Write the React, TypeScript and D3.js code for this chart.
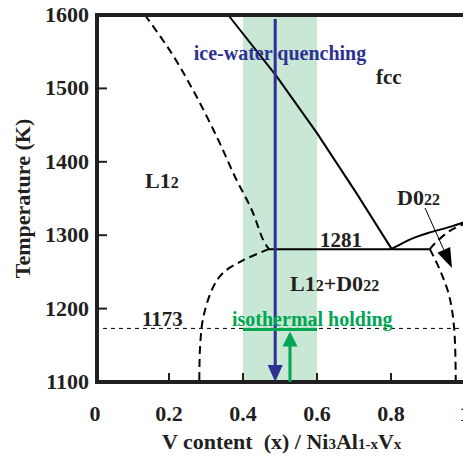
import React, { useEffect, useRef } from 'react';
import * as d3 from 'd3';

type Pt = [number, number];

// axis ticks
const xTicks = [0, 0.2, 0.4, 0.6, 0.8, 1];
const xTickLabels = ['0', '0.2', '0.4', '0.6', '0.8', '1'];
const yTicks = [1100, 1200, 1300, 1400, 1500, 1600];

// phase boundaries (V content, temperature K)
const fccBoundary: Pt[] = [[0.36, 1600], [0.49, 1517], [0.6, 1439], [0.707, 1357], [0.802, 1281]];
const eutectoidLine: Pt[] = [[0.47, 1281], [0.905, 1281]];
const d022Boundary: Pt[] = [[0.8, 1281], [0.82, 1286], [0.838, 1291], [0.865, 1297], [0.9, 1303], [0.964, 1312], [1.0, 1318]];
const d022Metastable: Pt[] = [[0.905, 1281], [0.919, 1289], [0.959, 1306], [1.0, 1316]];
const l12Solvus: Pt[] = [[0.135, 1600], [0.207, 1548], [0.27, 1493], [0.333, 1430], [0.378, 1380], [0.424, 1334], [0.455, 1293], [0.47, 1281]];
const leftDome: Pt[] = [[0.47, 1281], [0.401, 1266], [0.347, 1249], [0.32, 1230], [0.293, 1189], [0.284, 1148], [0.282, 1100]];
const rightDome: Pt[] = [[0.905, 1281], [0.932, 1253], [0.958, 1216], [0.971, 1171], [0.975, 1100]];

// heat treatment
const holdTemp = 1173;
const eutectoidTemp = 1281;
const band: [number, number] = [0.4, 0.6];
const quenchX = 0.487;
const holdArrowX = 0.527;

const BLUE = '#2e3192';
const GREEN = '#00a651';
const FONT = '"Liberation Serif", "Times New Roman", serif';

export default function App() {
  const svgRef = useRef<SVGSVGElement>(null);
  const width = 463;
  const height = 456;

  useEffect(() => {
    const svg = d3.select(svgRef.current);
    svg.selectAll('*').remove();

    const x = d3.scaleLinear().domain([0, 1]).range([95, 465]);
    const y = d3.scaleLinear().domain([1100, 1600]).range([382, 15]);

    const line = d3.line<Pt>().x(d => x(d[0])).y(d => y(d[1]));
    const smooth = d3.line<Pt>().x(d => x(d[0])).y(d => y(d[1])).curve(d3.curveCatmullRom);

    // green band
    svg.append('rect')
      .attr('x', x(band[0]))
      .attr('y', y(1600))
      .attr('width', x(band[1]) - x(band[0]))
      .attr('height', y(1100) - y(1600))
      .attr('fill', '#c8e7d5');

    // 1173 K dotted line
    svg.append('line')
      .attr('x1', x(0)).attr('x2', x(1))
      .attr('y1', y(holdTemp)).attr('y2', y(holdTemp))
      .attr('stroke', '#000').attr('stroke-width', 1)
      .attr('stroke-dasharray', '4,4');

    // solid boundaries
    [fccBoundary, eutectoidLine].forEach(d => {
      svg.append('path').datum(d)
        .attr('d', line).attr('fill', 'none')
        .attr('stroke', '#000').attr('stroke-width', 2);
    });
    svg.append('path').datum(d022Boundary)
      .attr('d', smooth).attr('fill', 'none')
      .attr('stroke', '#000').attr('stroke-width', 2);

    // dashed boundaries
    [l12Solvus, leftDome, rightDome, d022Metastable].forEach(d => {
      svg.append('path').datum(d)
        .attr('d', smooth).attr('fill', 'none')
        .attr('stroke', '#000').attr('stroke-width', 2)
        .attr('stroke-dasharray', '8,5');
    });

    // frame
    svg.append('rect')
      .attr('x', x(0) + 2).attr('y', y(1600))
      .attr('width', x(1) - x(0) - 2).attr('height', y(1100) - y(1600))
      .attr('fill', 'none').attr('stroke', '#231f20').attr('stroke-width', 4);

    // ticks
    yTicks.slice(1, -1).forEach(t => {
      svg.append('line')
        .attr('x1', x(0) + 2).attr('x2', x(0) + 12)
        .attr('y1', y(t)).attr('y2', y(t))
        .attr('stroke', '#231f20').attr('stroke-width', 2);
    });
    xTicks.slice(1).forEach(t => {
      svg.append('line')
        .attr('x1', x(t)).attr('x2', x(t))
        .attr('y1', y(1100)).attr('y2', y(1100) - 9)
        .attr('stroke', '#231f20').attr('stroke-width', 2);
    });

    const txt = (s: string, px: number, py: number, size: number, fill = '#231f20', anchor = 'start') =>
      svg.append('text')
        .attr('x', px).attr('y', py)
        .attr('text-anchor', anchor)
        .style('font-family', FONT)
        .style('font-weight', 'bold')
        .style('font-size', `${size}px`)
        .style('fill', fill)
        .text(s);

    yTicks.forEach(t => txt(String(t), x(0) - 6, y(t) + 7, 22, '#231f20', 'end'));
    xTicks.forEach((t, i) => txt(xTickLabels[i], x(t), 421, 22, '#231f20', 'middle'));

    // y title
    svg.append('text')
      .attr('transform', `translate(30,${(y(1100) + y(1600)) / 2}) rotate(-90)`)
      .attr('text-anchor', 'middle')
      .style('font-family', FONT).style('font-weight', 'bold')
      .style('font-size', '22px').style('fill', '#231f20')
      .text('Temperature (K)');

    // x title with subscripts
    const xt = svg.append('text')
      .attr('x', 162).attr('y', 449)
      .style('font-family', FONT).style('font-weight', 'bold')
      .style('font-size', '22px').style('fill', '#231f20')
      .style('white-space', 'pre');
    const sub = (el: any, s: string, big: string, size = 15) => {
      el.append('tspan').style('font-size', `${size}px`).text(s);
      if (big) el.append('tspan').text(big);
    };
    xt.append('tspan').text('V content  (x) / Ni');
    sub(xt, '3', 'Al');
    sub(xt, '1-x', 'V');
    sub(xt, 'x', '');

    // phase labels
    const phase = (parts: [string, boolean][], px: number, py: number, size: number) => {
      const t = svg.append('text')
        .attr('x', px).attr('y', py)
        .style('font-family', FONT).style('font-weight', 'bold')
        .style('font-size', `${size}px`).style('fill', '#231f20');
      parts.forEach(([s, small]) => {
        const sp = t.append('tspan').text(s);
        if (small) sp.style('font-size', `${Math.round(size * 0.72)}px`);
      });
    };
    phase([['L1', false], ['2', true]], 145, 188, 22);
    phase([['fcc', false]], 376, 84, 21);
    phase([['D0', false], ['22', true]], 397, 205, 22);
    phase([['L1', false], ['2', true], ['+D0', false], ['22', true]], 290, 291, 22);
    txt('1281', 320, 247, 21);
    txt('1173', 142, 326, 21);

    // D022 pointer arrow
    const tip: Pt = [452, 268];
    const from: Pt = [425, 208];
    const ang = Math.atan2(tip[1] - from[1], tip[0] - from[0]);
    const hl = 20, hw = 7;
    const bx = tip[0] - hl * Math.cos(ang), by = tip[1] - hl * Math.sin(ang);
    svg.append('line')
      .attr('x1', from[0]).attr('y1', from[1]).attr('x2', bx).attr('y2', by)
      .attr('stroke', '#000').attr('stroke-width', 1);
    svg.append('path')
      .attr('d', `M${tip[0]},${tip[1]}L${bx - hw * Math.sin(ang)},${by + hw * Math.cos(ang)}L${bx + hw * Math.sin(ang)},${by - hw * Math.cos(ang)}Z`)
      .attr('fill', '#000');

    // quench arrow
    const qx = x(quenchX);
    svg.append('line')
      .attr('x1', qx).attr('x2', qx)
      .attr('y1', y(1600) + 4).attr('y2', y(1100) - 14)
      .attr('stroke', BLUE).attr('stroke-width', 3);
    svg.append('path')
      .attr('d', `M${qx - 7.5},${y(1100) - 17}L${qx + 7.5},${y(1100) - 17}L${qx},${y(1100)}Z`)
      .attr('fill', BLUE);
    txt('ice-water quenching', x(0.5), 60, 20, BLUE, 'middle');

    // isothermal holding
    svg.append('line')
      .attr('x1', x(band[0])).attr('x2', x(band[1]))
      .attr('y1', y(holdTemp) + 1).attr('y2', y(holdTemp) + 1)
      .attr('stroke', GREEN).attr('stroke-width', 3);
    const gx = x(holdArrowX);
    const gTop = y(holdTemp) + 3;
    svg.append('line')
      .attr('x1', gx).attr('x2', gx)
      .attr('y1', y(1100)).attr('y2', gTop + 12)
      .attr('stroke', GREEN).attr('stroke-width', 3);
    svg.append('path')
      .attr('d', `M${gx - 7.5},${gTop + 15}L${gx + 7.5},${gTop + 15}L${gx},${gTop}Z`)
      .attr('fill', GREEN);
    txt('isothermal holding', 232, 326, 20, GREEN);
    void eutectoidTemp;
  }, []);

  return (
    <svg
      ref={svgRef}
      width={width}
      height={height}
      style={{ position: 'absolute', left: 0, top: 0, background: '#fff' }}
    />
  );
}
